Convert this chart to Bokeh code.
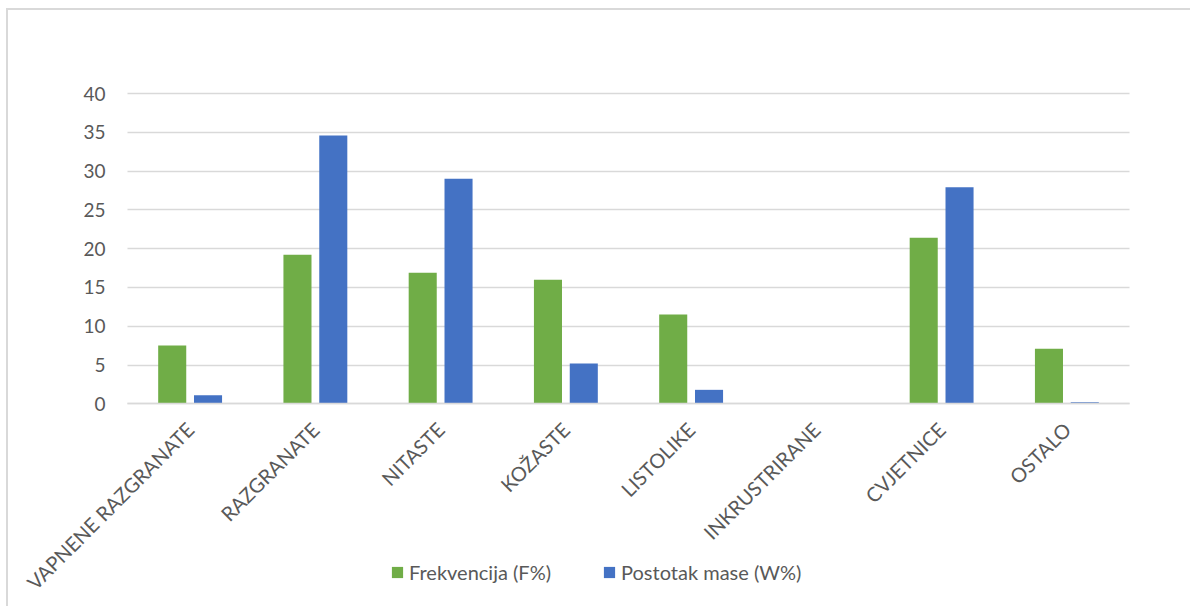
import math
from bokeh.plotting import figure
from bokeh.models import (ColumnDataSource, Range1d, Legend, LegendItem, FixedTicker)
from bokeh.transform import dodge
from bokeh.embed import file_html
from bokeh.resources import INLINE

categories = ["VAPNENE RAZGRANATE", "RAZGRANATE", "NITASTE", "KOŽASTE",
              "LISTOLIKE", "INKRUSTRIRANE", "CVJETNICE", "OSTALO"]
freq = [7.5, 19.2, 16.9, 16.0, 11.5, 0.0, 21.4, 7.1]
mass = [1.1, 34.6, 29.0, 5.2, 1.8, 0.0, 27.9, 0.2]
series_names = ["Frekvencija (F%)", "Postotak mase (W%)"]
series_colors = ["#70AD47", "#4472C4"]
y_ticks = [0, 5, 10, 15, 20, 25, 30, 35, 40]

FONT = "Lato"
TXT = "#595959"
GRID = "#D9D9D9"

pos = list(range(len(categories)))
src = ColumnDataSource(dict(x=pos, cat=categories, freq=freq, mass=mass))

# layout geometry (pixels, canvas coordinates)
W, H = 1184, 598
PLOT_L, PLOT_R = 119, 1121          # category band inside canvas
CAT_W = (PLOT_R - PLOT_L) / len(categories)
x_start = -0.5 - PLOT_L / CAT_W
x_end = len(categories) - 0.5 + (W - PLOT_R) / CAT_W
TOP_Y = 83                          # canvas y of value 40
ZERO_Y = 393.3                      # canvas y of value 0
PX_PER_UNIT = (ZERO_Y - TOP_Y) / 40
y_start = -(H - ZERO_Y) / PX_PER_UNIT
y_end = 40 + TOP_Y / PX_PER_UNIT

p = figure(x_range=Range1d(x_start, x_end), y_range=Range1d(y_start, y_end),
           width=W, height=H, output_backend="svg", toolbar_location=None,
           min_border=0)
p.styles = {"margin-left": "6px", "margin-top": "8px",
            "border-left": "2px solid #D9D9D9", "border-top": "2px solid #D9D9D9"}
p.outline_line_color = None
p.xgrid.grid_line_color = None
p.ygrid.grid_line_color = None

r1 = p.vbar(x=dodge("x", -0.143), top="freq", width=0.224,
            source=src, fill_color=series_colors[0], line_color=None)
r2 = p.vbar(x=dodge("x", 0.143), top="mass", width=0.224,
            source=src, fill_color=series_colors[1], line_color=None)

# y axis: ticks drawn inward across the category band act as gridlines
p.yaxis.fixed_location = -0.5
p.yaxis.level = "underlay"
p.yaxis.ticker = FixedTicker(ticks=y_ticks)
p.yaxis.axis_line_color = None
p.yaxis.major_tick_in = int(round(PLOT_R - PLOT_L))
p.yaxis.major_tick_out = 0
p.yaxis.major_tick_line_color = GRID
p.yaxis.major_tick_line_width = 1.5
p.yaxis.minor_tick_line_color = None
p.yaxis.major_label_text_font = FONT
p.yaxis.major_label_text_font_size = "19px"
p.yaxis.major_label_text_color = TXT
p.yaxis.major_label_standoff = 22

p.xaxis.fixed_location = 0
p.xaxis.bounds = (-0.5, len(categories) - 0.5)
p.xaxis.ticker = FixedTicker(ticks=pos)
p.xaxis.major_label_overrides = {i: c for i, c in zip(pos, categories)}
p.xaxis.axis_line_color = GRID
p.xaxis.axis_line_width = 1.5
p.xaxis.major_tick_line_color = None
p.xaxis.minor_tick_line_color = None
p.xaxis.major_label_orientation = math.pi / 4
p.xaxis.major_label_text_font = FONT
p.xaxis.major_label_text_font_size = "20px"
p.xaxis.major_label_text_color = TXT
p.xaxis.major_label_standoff = 16

legend = Legend(items=[LegendItem(label=series_names[0], renderers=[r1]),
                       LegendItem(label=series_names[1], renderers=[r2])],
                orientation="horizontal", location=(382, 24),
                border_line_color=None, background_fill_alpha=0,
                glyph_width=14, glyph_height=14, spacing=51, padding=0, margin=0,
                label_text_font=FONT, label_text_font_size="20px",
                label_text_color=TXT, label_standoff=5)
p.add_layout(legend, "center")

open("out.html", "w").write(file_html(p, INLINE))
